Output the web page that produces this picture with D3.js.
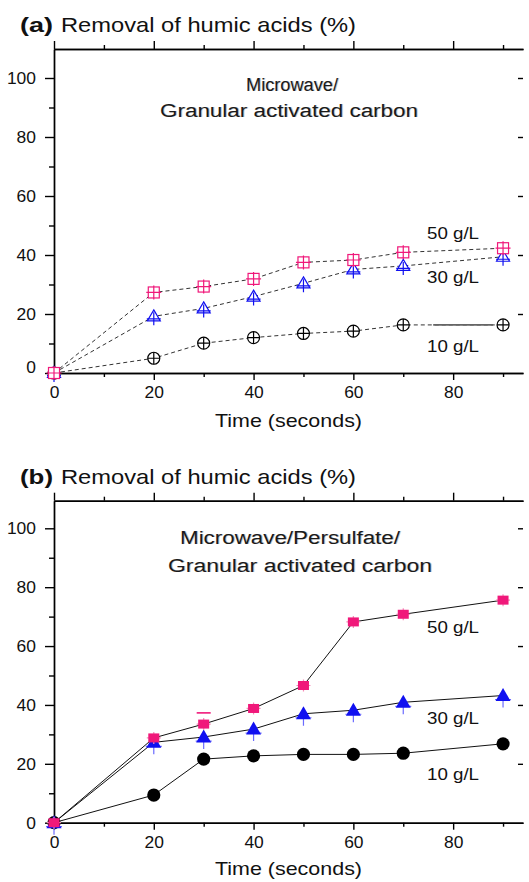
<!DOCTYPE html>
<html><head><meta charset="utf-8">
<script src="https://cdn.jsdelivr.net/npm/d3@7"></script>
<style>
body{margin:0;background:#fff}
svg{display:block}
text{font-family:"Liberation Sans",Arial,sans-serif;fill:#111}
</style>
</head><body>
<svg id="c" width="529" height="882"></svg>
<script>
// ---------------- data ----------------
const times = [0, 20, 30, 40, 50, 60, 70, 90];
const seriesLabels = ["10 g/L", "30 g/L", "50 g/L"];
const xTicks = [0, 20, 40, 60, 80];
const xMinor = [10, 30, 50, 70, 90];
const yTicks = [0, 20, 40, 60, 80, 100];
const yMinor = [10, 30, 50, 70, 90];

// (a) Microwave / Granular activated carbon
const a10 = [0, 5.0, 10.1, 12.0, 13.4, 14.2, 16.3, 16.3];
const a30 = [0, 19.2, 21.9, 25.9, 30.4, 35.1, 36.3, 39.4];
const a50 = [0, 27.3, 29.3, 31.9, 37.5, 38.3, 40.9, 42.3];
const aBridge = [76, 88];          // solid grey piece over the 10 g/L line (time span)

// (b) Microwave / Persulfate / Granular activated carbon
const b10 = [0, 9.4, 21.6, 22.7, 23.2, 23.2, 23.6, 26.8];
const b30 = [0, 27.3, 29.1, 31.8, 37.0, 38.2, 40.9, 43.2];
const b50 = [0, 28.8, 33.5, 38.8, 46.6, 68.2, 70.8, 75.6];
const b50ErrUp = [0, 0, 3.8, 0, 0, 0, 0, 0];

const titles = ["(a)", "(b)"];
const titleText = "Removal of humic acids (%)";
const notesA = ["Microwave/", "Granular activated carbon"];
const notesB = ["Microwave/Persulfate/", "Granular activated carbon"];
const xTitle = "Time (seconds)";

// ---------------- drawing ----------------
const svg = d3.select("#c");
const PINK = "#f0187a", BLUE = "#1010f0", BLACK = "#000";

function stretchText(g, str, x, y, w, size, weight, anchor) {
  const t = g.append("text").attr("x", x).attr("y", y)
    .attr("font-size", size).attr("font-weight", weight || "normal")
    .attr("text-anchor", anchor || "start").text(str);
  if (w) t.attr("textLength", w).attr("lengthAdjust", "spacingAndGlyphs");
  return t;
}
function ghostText(g, str, x, y, w, size) {
  stretchText(g, str, x + 1, y, w, size).style("fill", "#c4c4c4");
  stretchText(g, str, x, y, w, size).style("fill", "#1a1a1a");
}

function drawMarker(g, kind, filled, color) {
  const sw = 1.2;
  if (kind === "circle") {
    if (filled) {
      g.append("circle").attr("r", 6.6).attr("fill", color);
    } else {
      g.append("circle").attr("r", 6).attr("fill", "#fff").attr("stroke", color).attr("stroke-width", sw);
      g.append("path").attr("d", "M-6,0H6M0,-6V6").attr("stroke", color).attr("stroke-width", sw);
    }
  } else if (kind === "square") {
    if (filled) {
      g.append("path").attr("d", "M-7,0H7M0,-6V6").attr("stroke", "#f58bb8").attr("stroke-width", 1.2);
      g.append("rect").attr("x", -5.5).attr("y", -4.5).attr("width", 11).attr("height", 9).attr("fill", color);
    } else {
      g.append("rect").attr("x", -5.5).attr("y", -5.5).attr("width", 11).attr("height", 11)
        .attr("fill", "#fff").attr("stroke", color).attr("stroke-width", sw);
      g.append("path").attr("d", "M-7.5,0H7.5M0,-7V7").attr("stroke", color).attr("stroke-width", sw);
    }
  } else {
    if (filled) {
      g.append("path").attr("d", "M0,0V12M-8,4H8").attr("stroke", "#6b6bff").attr("stroke-width", 1.2);
      g.append("path").attr("d", "M0,-7.5L7.5,5.5H-7.5Z").attr("fill", color);
    } else {
      g.append("path").attr("d", "M0,-6.5L6.5,4.5H-6.5Z").attr("fill", "#fff").attr("stroke", color).attr("stroke-width", sw);
      g.append("path").attr("d", "M-7,2.5H7M0,-4V9").attr("stroke", color).attr("stroke-width", sw);
    }
  }
}

function panel(cfg) {
  const g = svg.append("g");
  const x = d3.scaleLinear().domain([0, 94]).range([54, 523]);
  const y = d3.scaleLinear().domain([0, cfg.ymax]).range([cfg.y0, cfg.yTop]);

  // title
  stretchText(g, cfg.tag, 20, cfg.titleY, 33, 21, "bold");
  stretchText(g, titleText, 61, cfg.titleY, 295, 21);

  // axes
  const axW = 1.4;
  const left = g.append("g").attr("transform", `translate(${x(0)},0)`)
    .call(d3.axisLeft(y).tickValues(yTicks).tickSize(9).tickSizeOuter(0).tickPadding(9).tickFormat(d3.format("d")));
  g.append("g").attr("transform", `translate(${x(0)},0)`)
    .call(d3.axisLeft(y).tickValues(yMinor).tickSize(5).tickSizeOuter(0).tickFormat(""));
  const bottom = g.append("g").attr("transform", `translate(0,${y(0)})`)
    .call(d3.axisBottom(x).tickValues(xTicks).tickSize(7).tickSizeOuter(0).tickPadding(6).tickFormat(d3.format("d")));
  g.append("g").attr("transform", `translate(0,${y(0)})`)
    .call(d3.axisBottom(x).tickValues(xMinor).tickSize(4).tickSizeOuter(0).tickFormat(""));
  g.append("g").attr("transform", `translate(0,${cfg.yTop})`)
    .call(d3.axisTop(x).tickValues(xTicks).tickSize(8).tickSizeOuter(0).tickFormat(""));
  g.append("g").attr("transform", `translate(0,${cfg.yTop})`)
    .call(d3.axisTop(x).tickValues(xMinor).tickSize(4).tickSizeOuter(0).tickFormat(""));
  g.append("g").attr("transform", `translate(523,0)`)
    .call(d3.axisRight(y).tickValues(yTicks.slice(1)).tickSize(-5).tickSizeOuter(0).tickFormat(""))
    .select(".domain").remove();
  g.selectAll(".domain, .tick line").attr("stroke", "#000").attr("stroke-width", axW);
  g.selectAll(".tick text").attr("font-size", 17).attr("font-family", "Liberation Sans, Arial, sans-serif")
    .style("fill", "#111")
    .each(function () { const s = this.textContent; if (s) d3.select(this).attr("textLength", s.length * 9.7).attr("lengthAdjust", "spacingAndGlyphs"); });
  if (cfg.raiseZero) left.selectAll(".tick").filter(d => d === 0).select("text").attr("dy", "-0.05em");

  // x title
  stretchText(g, xTitle, 215, cfg.xTitleY, 147, 19);

  // notes
  ghostText(g, cfg.notes[0], cfg.n1x, cfg.n1y, cfg.n1w, 18);
  ghostText(g, cfg.notes[1], cfg.n2x, cfg.n2y, cfg.n2w, 18);

  // series
  const line = d3.line().x((d, i) => x(times[i])).y(d => y(d));
  cfg.series.forEach(s => {
    g.append("path").attr("d", line(s.vals)).attr("fill", "none")
      .attr("stroke", cfg.filled ? "#111" : "#333").attr("stroke-width", 1)
      .attr("stroke-dasharray", cfg.filled ? null : "4,3");
  });
  if (cfg.bridge) {
    g.append("line").attr("x1", x(cfg.bridge.span[0])).attr("x2", x(cfg.bridge.span[1]))
      .attr("y1", y(cfg.bridge.v)).attr("y2", y(cfg.bridge.v))
      .attr("stroke", "#666").attr("stroke-width", 1.6);
  }
  cfg.series.forEach(s => {
    if (s.errUp) {
      s.errUp.forEach((e, i) => {
        if (!e) return;
        g.append("line").attr("x1", x(times[i]) - 7).attr("x2", x(times[i]) + 7)
          .attr("y1", y(s.vals[i] + e)).attr("y2", y(s.vals[i] + e))
          .attr("stroke", s.color).attr("stroke-width", 1.6);
      });
    }
    s.vals.forEach((v, i) => {
      const mg = g.append("g").attr("transform", `translate(${x(times[i])},${y(v)})`);
      drawMarker(mg, s.kind, cfg.filled, s.color);
    });
  });

  // series labels
  cfg.labels.forEach((l, i) => stretchText(g, seriesLabels[i], 427, l, 52, 17));
}

panel({
  tag: titles[0], titleY: 32, y0: 373, yTop: 49, ymax: (373 - 49) / 2.95,
  xTitleY: 427, notes: notesA, n1x: 246, n1y: 91, n1w: 92, n2x: 160, n2y: 117, n2w: 258,
  filled: false, raiseZero: true,
  series: [
    { vals: a10, kind: "circle", color: BLACK },
    { vals: a30, kind: "triangle", color: BLUE },
    { vals: a50, kind: "square", color: PINK }
  ],
  bridge: { span: aBridge, v: a10[6] },
  labels: [352, 283, 239]
});

panel({
  tag: titles[1], titleY: 484, y0: 822.7, yTop: 500.7, ymax: (822.7 - 500.7) / 2.944,
  xTitleY: 875, notes: notesB, n1x: 180, n1y: 544, n1w: 220, n2x: 168, n2y: 572, n2w: 264,
  filled: true, raiseZero: false,
  series: [
    { vals: b10, kind: "circle", color: BLACK },
    { vals: b30, kind: "triangle", color: BLUE },
    { vals: b50, kind: "square", color: PINK, errUp: b50ErrUp }
  ],
  labels: [780, 724, 633]
});
</script>
</body></html>
